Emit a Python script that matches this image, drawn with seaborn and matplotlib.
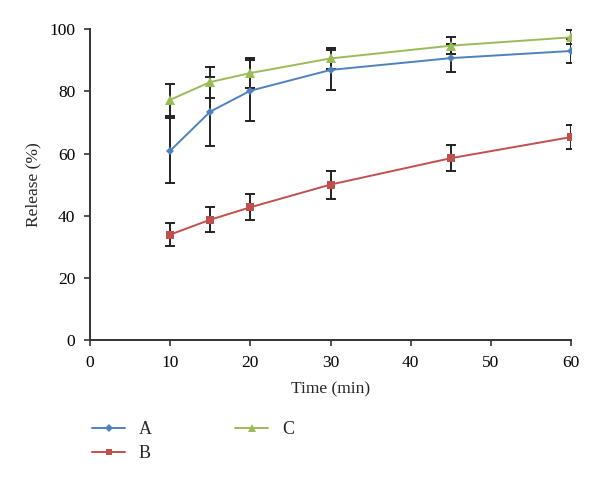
import numpy as np
import pandas as pd
import matplotlib
matplotlib.use("Agg")
import matplotlib.pyplot as plt
import seaborn as sns

time_min = [10, 15, 20, 30, 45, 60]
release_a = [60.9, 73.5, 80.2, 86.9, 90.7, 93.0]
err_a = [10.4, 11.0, 9.9, 6.4, 4.6, 3.8]
release_b = [33.9, 38.7, 42.7, 50.0, 58.5, 65.3]
err_b = [3.6, 4.0, 4.2, 4.5, 4.1, 3.9]
release_c = [77.3, 83.0, 85.9, 90.6, 94.7, 97.4]
err_c = [5.2, 5.0, 4.7, 3.4, 2.8, 2.3]

names = ["A", "B", "C"]
series = {"A": (release_a, err_a), "B": (release_b, err_b), "C": (release_c, err_c)}
colors = {"A": "#4F81BD", "B": "#C0504D", "C": "#9BBB59"}
markers = {"A": "D", "B": "s", "C": "^"}
msizes = {"A": 4.5, "B": 6, "C": 6.5}

rows = []
for name, (vals, errs) in series.items():
    for t, v, e in zip(time_min, vals, errs):
        rows.append({"time": t, "release": v, "err": e, "sample": name})
df = pd.DataFrame(rows)

sns.set_style("ticks")
plt.rcParams["font.family"] = ["Liberation Serif", "DejaVu Serif"]

fig = plt.figure(figsize=(6, 4.87), dpi=100)
ax = fig.add_axes([0.15, 0.302, 0.802, 0.638])

sns.lineplot(data=df, x="time", y="release", hue="sample", style="sample",
             palette=colors, markers=markers, dashes=False, linewidth=1.4,
             markeredgewidth=0, ax=ax, zorder=3, legend=False)
for line, name in zip(ax.lines[:3], names):
    line.set_markersize(msizes[name])

for name in names:
    d = df[df["sample"] == name]
    ax.errorbar(d["time"], d["release"], yerr=d["err"], fmt="none",
                ecolor="#222222", elinewidth=1.4, capsize=3.5, capthick=1.4, zorder=2)

ax.set_xlim(0, 60)
ax.set_ylim(0, 100)
ax.set_xticks(range(0, 61, 10))
ax.set_yticks(range(0, 101, 20))
ax.tick_params(axis="both", direction="out", length=4.5, width=1.2, pad=6,
               colors="#333333", labelcolor="black", labelsize=12.5)
for s in ["left", "bottom"]:
    ax.spines[s].set_color("#333333")
    ax.spines[s].set_linewidth(1.4)
sns.despine(ax=ax)
ax.set_xlabel("Time (min)", fontsize=12.5, labelpad=8)
ax.set_ylabel("Release (%)", fontsize=12.5, labelpad=6)

handles = [plt.Line2D([], [], color=colors[n], marker=markers[n], linewidth=1.4,
                      markersize=msizes[n] * 0.8, markeredgewidth=0) for n in names]
fig.legend(handles, names, ncol=2, frameon=False, loc="upper left",
           bbox_to_anchor=(92 / 600, 1 - 421 / 487), fontsize=13, handlelength=1.85,
           handletextpad=0.75, columnspacing=4.6, labelspacing=0.4,
           borderpad=0, borderaxespad=0)

plt.savefig("out.png", dpi=100)
plt.close()
